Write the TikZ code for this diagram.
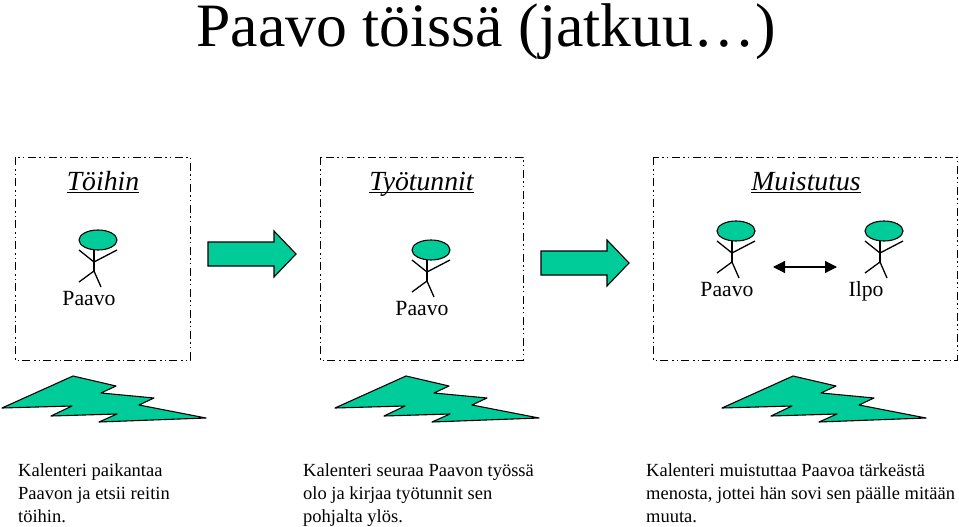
\documentclass[tikz,border=0pt]{standalone}
\usepackage{fontspec}
\setmainfont{Liberation Serif}
\usetikzlibrary{arrows.meta}
\definecolor{vihrea}{HTML}{00CC99}
\tikzset{
    ruutu/.style={black, line width=1pt, dash pattern=on 8pt off 4pt on 1.5pt off 3pt on 1.5pt off 3pt},
    otsikko/.style={font=\fontsize{27.7}{30}\selectfont\itshape, anchor=base, inner sep=0pt},
    nimi/.style={font=\fontsize{21.7}{24}\selectfont, anchor=base},
    selite/.style={font=\fontsize{18.5}{23}\selectfont, anchor=base west, align=left, inner sep=0pt},
    pics/ukko/.style={code={
        \filldraw[fill=vihrea, draw=black, line width=1.1pt] (0,0) ellipse [x radius=19pt, y radius=10pt];
        \draw[line width=1.3pt] (-4,10) -- (-4,31);
        \draw[line width=1.3pt] (-19,10) -- (-4,22) -- (19,10);
        \draw[line width=1.3pt] (-19,42) -- (-4,31) -- (3,47);
    }},
    pics/nuoli/.style={code={
        \filldraw[fill=vihrea, draw=black, line width=1.1pt] (0,-12) -- (66,-12) -- (66,-23) -- (88,0) -- (66,23) -- (66,12) -- (0,12) -- cycle;
    }},
    pics/salama/.style={code={
        \filldraw[fill=vihrea, draw=black, line width=1.1pt, line join=round] (2,408) -- (73,376) -- (116,386) -- (101,393) -- (154,398) -- (139,405) -- (206,418) -- (99,422) -- (117,414) -- (51,416) -- (72,406) -- cycle;
    }}
}

\begin{document}
\begin{tikzpicture}[x=1pt,y=-1pt]
    \useasboundingbox (0,0) rectangle (959,527);

    % Title
    \node[font=\fontsize{61.7}{66}\selectfont, anchor=base] (paaotsikko) at (486,47) {Paavo töissä (jatkuu\ldots)};

    % Dashed boxes
    \draw[ruutu] (15,157) rectangle (190,360);
    \draw[ruutu] (320,157) rectangle (523,360);
    \draw[ruutu] (653,157) rectangle (957,360);

    % Box headings
    \node[otsikko] (toihin) at (103,190) {Töihin};
    \node[otsikko] (tyotunnit) at (421.5,190) {Työtunnit};
    \node[otsikko] (muistutus) at (806,190) {Muistutus};
    \foreach \n in {toihin,tyotunnit,muistutus}
        \draw[line width=1.2pt] ([yshift=-2.5pt]\n.base west) -- ([yshift=-2.5pt]\n.base east);

    % People
    \pic at (98,240) {ukko};
    \pic at (431,250) {ukko};
    \pic at (736,231) {ukko};
    \pic at (884,231) {ukko};
    \node[nimi] (paavoa) at (89,305) {Paavo};
    \node[nimi] (paavob) at (422,315) {Paavo};
    \node[nimi] (paavoc) at (727,296) {Paavo};
    \node[nimi] (ilpo) at (866,296) {Ilpo};

    % Arrow between the two people
    \coordinate (vasen) at (773,267);
    \coordinate (oikea) at (837,267);
    \draw[{Triangle[length=12pt,width=12pt]}-{Triangle[length=12pt,width=12pt]}, line width=1.2pt] (vasen) -- (oikea);

    % Block arrows
    \pic at (208,254) {nuoli};
    \pic at (541,263) {nuoli};

    % Lightning bolts
    \foreach \x in {0,333,720}
        \pic at (\x,0) {salama};

    % Captions
    \node[selite] (selitea) at (18,522) {Kalenteri paikantaa\\Paavon ja etsii reitin\\töihin.};
    \node[selite] (seliteb) at (303,522) {Kalenteri seuraa Paavon työssä\\olo ja kirjaa työtunnit sen\\pohjalta ylös.};
    \node[selite] (selitec) at (646,522) {Kalenteri muistuttaa Paavoa tärkeästä\\menosta, jottei hän sovi sen päälle mitään\\muuta.};
\end{tikzpicture}
\end{document}
